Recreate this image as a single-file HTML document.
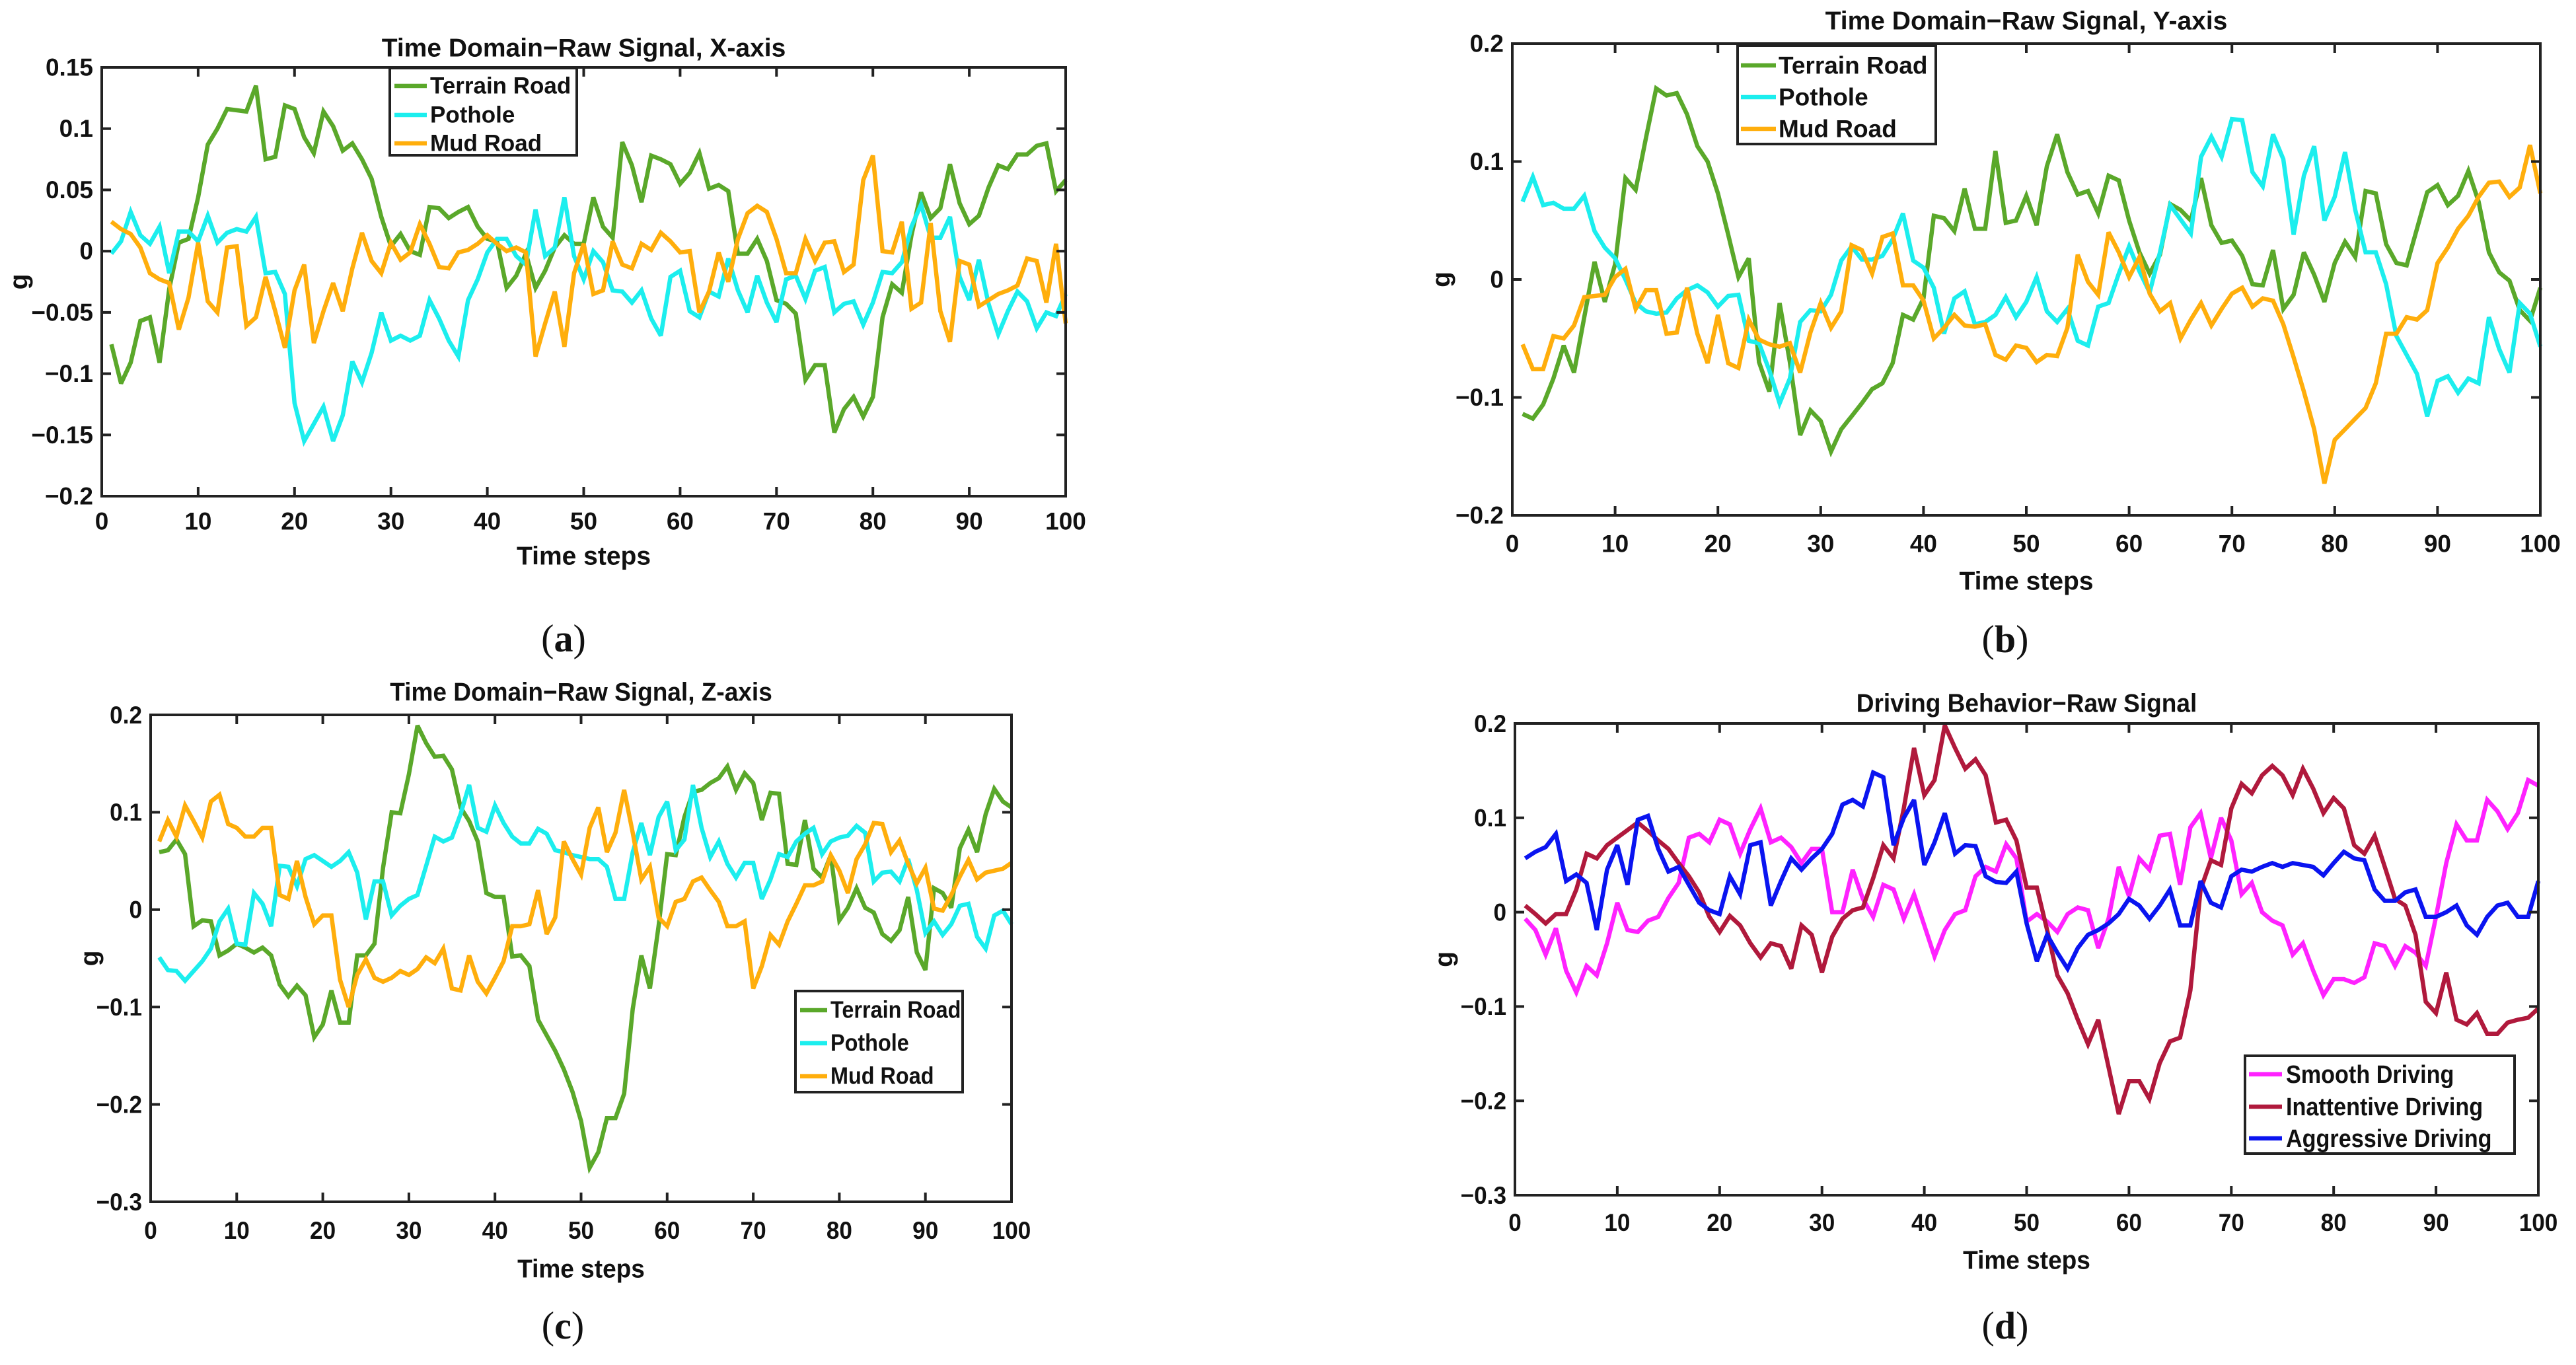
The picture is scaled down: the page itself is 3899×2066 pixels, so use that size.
<!DOCTYPE html>
<html><head><meta charset="utf-8"><style>
html,body{margin:0;padding:0;background:#fff;}
svg{display:block;}
text{font-family:"Liberation Sans",Arial,sans-serif;font-weight:bold;fill:#111;}
.cap{font-family:"Liberation Serif",serif;font-weight:normal;}
</style></head><body>
<svg id="fig" xmlns="http://www.w3.org/2000/svg" width="3899" height="2066" viewBox="0 0 3899 2066"></svg>
<script>
// ---- data ----
const steps = Array.from({length:100},(_,i)=>i+1);
const xTicks = [0,10,20,30,40,50,60,70,80,90,100];
const yTicksA = [-0.2,-0.15,-0.1,-0.05,0,0.05,0.1,0.15];
const yTicksB = [-0.2,-0.1,0,0.1,0.2];
const yTicksCD = [-0.3,-0.2,-0.1,0,0.1,0.2];
const yLabelsA = ["−0.2","−0.15","−0.1","−0.05","0","0.05","0.1","0.15"];
const yLabelsB = ["−0.2","−0.1","0","0.1","0.2"];
const yLabelsCD = ["−0.3","−0.2","−0.1","0","0.1","0.2"];

const aTerrain = [-0.076,-0.108,-0.091,-0.057,-0.054,-0.091,-0.031,0.007,0.010,0.044,0.087,0.100,0.116,0.115,0.114,0.135,0.075,0.077,0.119,0.116,0.093,0.080,0.114,0.102,0.082,0.088,0.075,0.059,0.028,0.004,0.014,0.000,-0.003,0.036,0.035,0.027,0.032,0.036,0.020,0.010,0.008,-0.030,-0.020,-0.002,-0.030,-0.016,0.003,0.013,0.006,0.006,0.044,0.020,0.011,0.089,0.070,0.040,0.078,0.075,0.071,0.055,0.064,0.080,0.051,0.054,0.049,-0.002,-0.002,0.010,-0.008,-0.040,-0.043,-0.051,-0.105,-0.093,-0.093,-0.148,-0.129,-0.119,-0.135,-0.119,-0.054,-0.027,-0.034,0.013,0.048,0.027,0.035,0.071,0.039,0.022,0.029,0.052,0.070,0.067,0.079,0.079,0.086,0.088,0.049,0.058];
const aPothole = [-0.002,0.008,0.032,0.013,0.006,0.020,-0.018,0.016,0.016,0.008,0.029,0.007,0.015,0.018,0.016,0.028,-0.018,-0.017,-0.035,-0.124,-0.155,-0.141,-0.127,-0.155,-0.134,-0.090,-0.107,-0.083,-0.050,-0.073,-0.069,-0.073,-0.069,-0.040,-0.055,-0.073,-0.086,-0.040,-0.023,-0.001,0.010,0.010,-0.004,-0.011,0.034,-0.004,0.003,0.044,-0.004,-0.023,0.000,-0.009,-0.032,-0.033,-0.042,-0.032,-0.055,-0.069,-0.021,-0.016,-0.049,-0.054,-0.033,-0.037,-0.006,-0.032,-0.050,-0.020,-0.042,-0.058,-0.023,-0.020,-0.039,-0.016,-0.013,-0.050,-0.043,-0.041,-0.060,-0.042,-0.017,-0.018,-0.009,0.020,0.038,0.011,0.011,0.028,-0.021,-0.040,-0.007,-0.043,-0.068,-0.049,-0.033,-0.041,-0.063,-0.050,-0.053,-0.035];
const aMud = [0.024,0.018,0.014,0.003,-0.018,-0.023,-0.026,-0.064,-0.038,0.007,-0.041,-0.050,0.003,0.004,-0.061,-0.054,-0.021,-0.049,-0.079,-0.032,-0.011,-0.075,-0.049,-0.026,-0.049,-0.014,0.015,-0.008,-0.018,0.007,-0.007,-0.001,0.022,0.006,-0.013,-0.014,-0.001,0.001,0.006,0.013,0.006,0.000,0.003,-0.001,-0.086,-0.059,-0.033,-0.078,-0.018,0.006,-0.035,-0.032,0.008,-0.011,-0.014,0.006,0.001,0.015,0.008,-0.001,0.000,-0.050,-0.033,-0.001,-0.025,0.010,0.031,0.037,0.032,0.010,-0.018,-0.018,0.010,-0.008,0.007,0.008,-0.017,-0.011,0.058,0.078,0.000,-0.001,0.024,-0.047,-0.042,0.023,-0.049,-0.074,-0.008,-0.011,-0.045,-0.040,-0.035,-0.032,-0.028,-0.006,-0.008,-0.042,0.006,-0.059];

const bTerrain = [-0.114,-0.118,-0.106,-0.084,-0.056,-0.079,-0.032,0.015,-0.019,0.013,0.086,0.076,0.120,0.162,0.156,0.158,0.140,0.113,0.100,0.073,0.038,0.002,0.018,-0.070,-0.095,-0.020,-0.070,-0.132,-0.111,-0.120,-0.146,-0.127,-0.116,-0.105,-0.093,-0.088,-0.071,-0.030,-0.034,-0.016,0.054,0.052,0.041,0.077,0.043,0.043,0.109,0.048,0.050,0.071,0.046,0.096,0.123,0.091,0.072,0.075,0.056,0.088,0.084,0.050,0.023,0.005,0.021,0.064,0.059,0.050,0.086,0.046,0.031,0.033,0.020,-0.004,-0.005,0.025,-0.025,-0.013,0.023,0.004,-0.019,0.014,0.032,0.019,0.075,0.073,0.030,0.014,0.012,0.043,0.074,0.080,0.063,0.071,0.092,0.066,0.023,0.006,-0.001,-0.026,-0.035,-0.007];
const bPothole = [0.066,0.087,0.063,0.065,0.060,0.060,0.071,0.041,0.027,0.018,0.000,-0.020,-0.027,-0.029,-0.028,-0.016,-0.009,-0.005,-0.011,-0.023,-0.014,-0.013,-0.052,-0.054,-0.077,-0.105,-0.084,-0.036,-0.026,-0.027,-0.013,0.016,0.028,0.017,0.017,0.020,0.034,0.056,0.016,0.010,-0.007,-0.046,-0.016,-0.010,-0.038,-0.036,-0.030,-0.015,-0.032,-0.019,0.002,-0.027,-0.036,-0.025,-0.052,-0.056,-0.023,-0.020,0.005,0.028,0.007,-0.011,0.023,0.063,0.051,0.039,0.104,0.121,0.104,0.136,0.135,0.091,0.079,0.123,0.102,0.038,0.088,0.113,0.050,0.070,0.108,0.059,0.023,0.023,-0.004,-0.048,-0.064,-0.080,-0.116,-0.086,-0.082,-0.096,-0.084,-0.088,-0.032,-0.059,-0.079,-0.020,-0.029,-0.057];
const bMud = [-0.055,-0.076,-0.076,-0.048,-0.050,-0.039,-0.015,-0.014,-0.013,0.002,0.009,-0.025,-0.009,-0.009,-0.046,-0.045,-0.007,-0.046,-0.071,-0.030,-0.071,-0.075,-0.034,-0.051,-0.055,-0.057,-0.054,-0.079,-0.045,-0.020,-0.041,-0.027,0.029,0.025,0.005,0.036,0.039,-0.005,-0.005,-0.018,-0.050,-0.041,-0.030,-0.039,-0.040,-0.038,-0.064,-0.068,-0.056,-0.058,-0.070,-0.064,-0.065,-0.041,0.021,-0.002,-0.013,0.040,0.023,0.002,0.019,-0.012,-0.027,-0.020,-0.050,-0.034,-0.020,-0.039,-0.025,-0.012,-0.007,-0.023,-0.016,-0.018,-0.038,-0.066,-0.095,-0.127,-0.173,-0.136,-0.127,-0.118,-0.109,-0.088,-0.046,-0.046,-0.032,-0.034,-0.026,0.014,0.027,0.043,0.054,0.070,0.082,0.083,0.070,0.078,0.114,0.073];

const cTerrain = [0.059,0.061,0.072,0.057,-0.017,-0.011,-0.012,-0.047,-0.042,-0.035,-0.039,-0.044,-0.039,-0.047,-0.077,-0.089,-0.078,-0.088,-0.131,-0.118,-0.083,-0.116,-0.116,-0.047,-0.047,-0.035,0.043,0.100,0.099,0.139,0.189,0.171,0.157,0.158,0.144,0.105,0.091,0.070,0.017,0.013,0.013,-0.048,-0.047,-0.058,-0.113,-0.129,-0.145,-0.164,-0.187,-0.217,-0.265,-0.249,-0.214,-0.214,-0.189,-0.102,-0.047,-0.081,-0.017,0.057,0.056,0.095,0.121,0.123,0.130,0.135,0.147,0.123,0.140,0.130,0.092,0.120,0.119,0.047,0.046,0.092,0.042,0.033,0.056,-0.011,0.002,0.022,0.002,-0.003,-0.025,-0.032,-0.021,0.013,-0.044,-0.062,0.022,0.017,0.002,0.063,0.082,0.059,0.098,0.124,0.111,0.105];
const cPothole = [-0.049,-0.062,-0.063,-0.073,-0.063,-0.053,-0.040,-0.012,0.001,-0.035,-0.036,0.017,0.006,-0.017,0.045,0.044,0.024,0.052,0.056,0.050,0.044,0.050,0.059,0.038,-0.010,0.029,0.029,-0.006,0.004,0.011,0.015,0.045,0.075,0.070,0.074,0.098,0.128,0.084,0.080,0.107,0.089,0.075,0.068,0.068,0.083,0.078,0.061,0.059,0.056,0.054,0.052,0.052,0.044,0.011,0.011,0.059,0.089,0.056,0.095,0.111,0.061,0.072,0.128,0.084,0.054,0.070,0.047,0.033,0.048,0.048,0.011,0.031,0.057,0.054,0.070,0.078,0.084,0.057,0.070,0.074,0.076,0.086,0.079,0.029,0.038,0.039,0.029,0.052,0.020,-0.024,-0.012,-0.026,-0.015,0.004,0.006,-0.028,-0.040,-0.006,-0.001,-0.015];
const cMud = [0.070,0.092,0.075,0.107,0.091,0.074,0.111,0.118,0.088,0.084,0.075,0.075,0.084,0.084,0.015,0.011,0.050,0.013,-0.015,-0.006,-0.006,-0.072,-0.100,-0.067,-0.051,-0.070,-0.074,-0.070,-0.063,-0.067,-0.061,-0.049,-0.055,-0.040,-0.081,-0.083,-0.047,-0.074,-0.086,-0.070,-0.053,-0.017,-0.017,-0.015,0.020,-0.025,-0.008,0.070,0.052,0.036,0.084,0.105,0.059,0.079,0.123,0.079,0.031,0.044,-0.008,-0.017,0.008,0.011,0.029,0.033,0.020,0.008,-0.017,-0.017,-0.012,-0.081,-0.058,-0.026,-0.036,-0.012,0.006,0.025,0.025,0.029,0.056,0.040,0.017,0.052,0.067,0.089,0.088,0.059,0.071,0.047,0.027,0.043,0.001,-0.001,0.015,0.034,0.051,0.031,0.038,0.040,0.042,0.048];

const dSmooth = [-0.007,-0.019,-0.045,-0.017,-0.062,-0.085,-0.057,-0.067,-0.033,0.010,-0.019,-0.021,-0.009,-0.005,0.015,0.031,0.079,0.083,0.074,0.098,0.093,0.062,0.088,0.110,0.074,0.079,0.069,0.052,0.067,0.067,0.000,0.000,0.045,0.014,-0.005,0.029,0.024,-0.007,0.019,-0.014,-0.047,-0.019,-0.002,0.002,0.038,0.048,0.043,0.072,0.057,-0.010,-0.002,-0.010,-0.021,-0.002,0.005,0.002,-0.038,-0.007,0.048,0.017,0.057,0.045,0.081,0.083,0.029,0.090,0.105,0.057,0.100,0.076,0.019,0.031,0.000,-0.009,-0.014,-0.045,-0.033,-0.062,-0.088,-0.071,-0.071,-0.075,-0.069,-0.033,-0.036,-0.057,-0.036,-0.043,-0.057,-0.005,0.052,0.093,0.076,0.076,0.119,0.107,0.088,0.105,0.140,0.134];
const dInattentive = [0.007,-0.002,-0.012,-0.002,-0.002,0.024,0.062,0.057,0.071,0.079,0.087,0.095,0.086,0.076,0.067,0.052,0.038,0.021,-0.005,-0.021,-0.004,-0.014,-0.033,-0.048,-0.033,-0.036,-0.060,-0.014,-0.024,-0.064,-0.026,-0.007,0.002,0.005,0.036,0.071,0.057,0.110,0.174,0.124,0.140,0.198,0.174,0.152,0.162,0.145,0.095,0.098,0.076,0.026,0.026,-0.019,-0.067,-0.086,-0.114,-0.140,-0.114,-0.164,-0.214,-0.179,-0.179,-0.198,-0.160,-0.137,-0.133,-0.083,0.024,0.055,0.050,0.110,0.136,0.126,0.145,0.155,0.145,0.124,0.152,0.131,0.105,0.121,0.110,0.071,0.062,0.081,0.048,0.014,0.007,-0.024,-0.095,-0.107,-0.064,-0.114,-0.119,-0.107,-0.129,-0.129,-0.117,-0.114,-0.112,-0.102];
const dAggressive = [0.057,0.064,0.069,0.083,0.033,0.040,0.031,-0.019,0.045,0.071,0.029,0.098,0.102,0.067,0.043,0.048,0.029,0.010,0.002,-0.002,0.038,0.019,0.071,0.074,0.007,0.033,0.057,0.045,0.057,0.067,0.083,0.114,0.119,0.112,0.148,0.143,0.071,0.100,0.119,0.050,0.074,0.105,0.062,0.071,0.070,0.038,0.032,0.031,0.043,-0.012,-0.052,-0.024,-0.043,-0.060,-0.038,-0.024,-0.019,-0.012,-0.002,0.014,0.007,-0.007,0.007,0.024,-0.014,-0.014,0.033,0.010,0.005,0.038,0.045,0.043,0.048,0.052,0.048,0.052,0.050,0.048,0.039,0.052,0.064,0.057,0.055,0.024,0.012,0.012,0.021,0.024,-0.005,-0.005,0.000,0.007,-0.014,-0.024,-0.005,0.007,0.010,-0.005,-0.005,0.033];

// ---- drawing ----
const NS="http://www.w3.org/2000/svg";
const svg=document.getElementById('fig');
function mk(tag,attrs,parent){const e=document.createElementNS(NS,tag);for(const k in attrs)e.setAttribute(k,attrs[k]);(parent||svg).appendChild(e);return e;}
function txt(parent,x,y,s,size,anchor,sx,cls){
  const t=mk('text',{transform:`translate(${x},${y}) scale(${sx},1)`,'font-size':size,'text-anchor':anchor,'dominant-baseline':'central'},parent);
  if(cls)t.setAttribute('class',cls);
  t.textContent=s;return t;}

const GREEN="#5aa82a",CYAN="#1ceeee",ORANGE="#ffae0c",MAG="#ff22ff",RED="#b0193c",BLUE="#0a14f0";

const panels=[
 {id:'a',L:154,R:1613,T:102,B:751,ymin:-0.2,ymax:0.15,yt:yTicksA,yl:yLabelsA,title:"Time Domain−Raw Signal, X-axis",titleY:73,tickY:789,xlabY:842,capX:853,capY:966,gX:29,sx:1,lsx:1,
  series:[[aTerrain,GREEN,"Terrain Road"],[aPothole,CYAN,"Pothole"],[aMud,ORANGE,"Mud Road"]],leg:{x:590,y:103,w:283,h:132,rows:[130,174,217],lx1:597,lx2:646,tx:651,fs:35}},
 {id:'b',L:2289,R:3845,T:66,B:780,ymin:-0.2,ymax:0.2,yt:yTicksB,yl:yLabelsB,title:"Time Domain−Raw Signal, Y-axis",titleY:32,tickY:823,xlabY:880,capX:3035,capY:967,gX:2182,sx:1,lsx:1,
  series:[[bTerrain,GREEN,"Terrain Road"],[bPothole,CYAN,"Pothole"],[bMud,ORANGE,"Mud Road"]],leg:{x:2630,y:69,w:300,h:149,rows:[99,147,195],lx1:2635,lx2:2688,tx:2692,fs:37}},
 {id:'c',L:228,R:1531,T:1082,B:1819,ymin:-0.3,ymax:0.2,yt:yTicksCD,yl:yLabelsCD,title:"Time Domain−Raw Signal, Z-axis",titleY:1048,tickY:1862,xlabY:1921,capX:852,capY:2006,gX:136,sx:0.95,lsx:0.9,
  series:[[cTerrain,GREEN,"Terrain Road"],[cPothole,CYAN,"Pothole"],[cMud,ORANGE,"Mud Road"]],leg:{x:1204,y:1500,w:253,h:153,rows:[1529,1579,1629],lx1:1211,lx2:1252,tx:1257,fs:36}},
 {id:'d',L:2293,R:3842,T:1095,B:1809,ymin:-0.3,ymax:0.2,yt:yTicksCD,yl:yLabelsCD,title:"Driving Behavior−Raw Signal",titleY:1065,tickY:1850,xlabY:1908,capX:3035,capY:2006,gX:2186,sx:0.95,lsx:0.9,
  series:[[dSmooth,MAG,"Smooth Driving"],[dInattentive,RED,"Inattentive Driving"],[dAggressive,BLUE,"Aggressive Driving"]],leg:{x:3398,y:1598,w:408,h:148,rows:[1626,1675,1723],lx1:3404,lx2:3454,tx:3460,fs:38}}
];

panels.forEach(p=>{
  const g=mk('g',{});
  
  
  const xs=v=>p.L+(v-0)/(100-0)*(p.R-p.L);
  const ys=v=>p.B-(v-p.ymin)/(p.ymax-p.ymin)*(p.B-p.T);
  p.series.forEach(([vals,col,name])=>{
    const d=vals.map((v,i)=>(i?'L':'M')+xs(steps[i]).toFixed(1)+','+ys(v).toFixed(1)).join('');
    const path=mk('path',{d:d,fill:'none',stroke:col,'stroke-width':6.5,'stroke-linejoin':'miter','stroke-miterlimit':3},g);
    
    
  });
  const box=mk('rect',{x:p.L,y:p.T,width:p.R-p.L,height:p.B-p.T,fill:'none',stroke:'#222','stroke-width':4},g);
  
  
  xTicks.forEach(t=>{
    const x=xs(t);
    mk('line',{x1:x,y1:p.B,x2:x,y2:p.B-14,stroke:'#222','stroke-width':4},g);
    mk('line',{x1:x,y1:p.T,x2:x,y2:p.T+14,stroke:'#222','stroke-width':4},g);
    const tl=txt(g,x,p.tickY,String(t),37,'middle',p.sx);
    
    
  });
  p.yt.forEach((t,i)=>{
    const y=ys(t);
    mk('line',{x1:p.L,y1:y,x2:p.L+14,y2:y,stroke:'#222','stroke-width':4},g);
    mk('line',{x1:p.R,y1:y,x2:p.R-14,y2:y,stroke:'#222','stroke-width':4},g);
    const tl=txt(g,p.L-13,y,p.yl[i],37,'end',p.sx);
    
    
  });
  const cx=(p.L+p.R)/2;
  const ti=txt(g,cx,p.titleY,p.title,39,'middle',p.sx);
  
  
  const xl=txt(g,cx,p.xlabY,"Time steps",39,'middle',p.sx);
  
  
  const yl=mk('text',{transform:`translate(${p.gX},${(p.T+p.B)/2}) rotate(-90)`,'font-size':39,'text-anchor':'middle','dominant-baseline':'central'},g);
  yl.textContent='g';
  
  
  const cap=mk('text',{x:p.capX,y:p.capY,'font-size':58,'text-anchor':'middle','dominant-baseline':'central','class':'cap'},g);
  
  
  cap.appendChild(document.createTextNode('('));
  const ts=mk('tspan',{'font-weight':'bold'},cap); ts.textContent=p.id;
  cap.appendChild(document.createTextNode(')'));
  const lg=mk('g',{},g);
  
  
  mk('rect',{x:p.leg.x,y:p.leg.y,width:p.leg.w,height:p.leg.h,fill:'#fff',stroke:'#222','stroke-width':4},lg);
  p.series.forEach(([vals,col,name],i)=>{
    const e=mk('g',{},lg);
    
    
    const y=p.leg.rows[i];
    mk('line',{x1:p.leg.lx1,y1:y,x2:p.leg.lx2,y2:y,stroke:col,'stroke-width':6.5},e);
    txt(e,p.leg.tx,y,name,p.leg.fs,'start',p.lsx);
  });
});
</script>
</body></html>
